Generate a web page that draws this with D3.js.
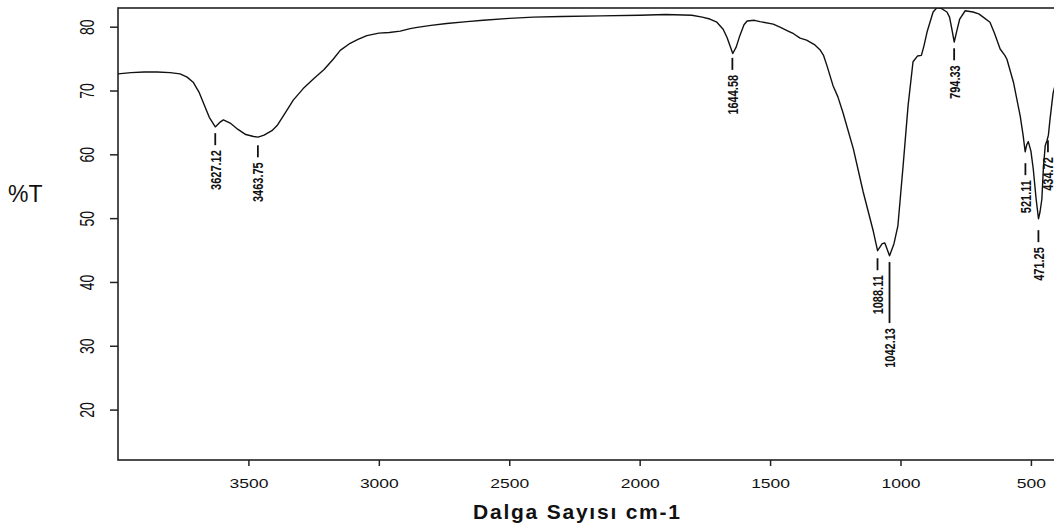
<!DOCTYPE html>
<html>
<head>
<meta charset="utf-8">
<script src="https://cdn.jsdelivr.net/npm/d3@7"></script>
<style>
  body { margin: 0; background: #fff; }
  svg { display: block; }
  text { font-family: "Liberation Sans", Arial, sans-serif; fill: #111; }
</style>
</head>
<body>
<div id="chart"></div>
<script>
// IR spectrum
var wavenumber = [4000, 3950, 3900, 3850, 3800, 3762, 3735, 3712, 3690, 3670, 3650, 3627, 3610, 3596, 3570, 3540, 3510, 3480, 3463, 3440, 3410, 3390, 3360, 3328, 3290, 3251, 3210, 3175, 3148, 3110, 3080, 3046, 3000, 2960, 2918, 2880, 2853, 2800, 2740, 2662, 2600, 2500, 2408, 2300, 2150, 2000, 1900, 1800, 1760, 1731, 1704, 1680, 1665, 1650, 1643, 1630, 1616, 1600, 1588, 1560, 1539, 1488, 1460, 1435, 1410, 1385, 1360, 1330, 1309, 1295, 1282, 1259, 1240, 1221, 1181, 1143, 1104, 1088, 1070, 1060, 1042, 1025, 1010, 990, 971, 952, 935, 920, 910, 898, 875, 860, 845, 822, 812, 803, 794, 785, 773, 752, 722, 700, 683, 657, 640, 618, 600, 592, 567, 541, 530, 522, 516, 510, 500, 491, 480, 471, 465, 458, 452, 445, 438, 433, 427, 415, 400];
var transmittance = [72.6, 72.8, 72.9, 72.9, 72.8, 72.6, 72.1, 71.3, 69.8, 67.8, 65.8, 64.3, 65.0, 65.4, 64.9, 63.9, 63.1, 62.8, 62.7, 63.0, 63.7, 64.5, 66.4, 68.5, 70.3, 71.8, 73.3, 74.9, 76.3, 77.4, 78.0, 78.6, 79.0, 79.1, 79.3, 79.7, 79.9, 80.2, 80.5, 80.8, 81.0, 81.3, 81.5, 81.6, 81.7, 81.8, 81.9, 81.8, 81.5, 81.2, 80.7, 79.6, 78.3, 76.6, 75.8, 76.8, 78.6, 80.3, 80.9, 81.0, 80.8, 80.4, 79.9, 79.4, 78.9, 78.2, 77.9, 77.2, 76.4, 75.5, 73.9, 70.8, 69.0, 66.6, 60.9, 54.1, 47.9, 44.9, 46.0, 46.1, 44.1, 46.0, 48.8, 58.2, 67.6, 74.5, 75.4, 75.5, 77.0, 79.2, 82.3, 83.0, 82.9, 82.3, 81.5, 79.6, 77.6, 79.2, 81.2, 82.5, 82.3, 82.0, 81.5, 80.7, 79.0, 76.5, 75.5, 74.9, 71.3, 66.0, 63.0, 60.4, 61.5, 62.0, 60.5, 57.7, 53.0, 49.9, 51.0, 53.0, 58.0, 61.4, 62.2, 63.0, 65.4, 69.6, 72.0];

// peak labels
var peakWave = [3627.12, 3463.75, 1644.58, 1088.11, 1042.13, 794.33, 521.11, 471.25, 434.72];
var peakT = [64.1, 62.2, 75.9, 44.5, 43.9, 77.4, 59.4, 48.9, 63.0];
var peakText = ["3627.12", "3463.75", "1644.58", "1088.11", "1042.13", "794.33", "521.11", "471.25", "434.72"];

var xTicks = [3500, 3000, 2500, 2000, 1500, 1000, 500];
var yTicks = [80, 70, 60, 50, 40, 30, 20];

var width = 1054, height = 527;
var plotLeft = 118, plotRight = 1057, plotTop = 8, plotBottom = 460;
var stretch = "scale(1.4,1)"; // the original picture is stretched sideways

var x = d3.scaleLinear().domain([4000, 400]).range([plotLeft, plotRight]);
var y = d3.scaleLinear().domain([12.1, 82.93]).range([plotBottom, plotTop]);

var svg = d3.select("#chart").append("svg")
    .attr("width", width)
    .attr("height", height);

svg.append("rect").attr("width", width).attr("height", height).attr("fill", "#fff");

svg.append("defs").append("clipPath").attr("id", "plot-clip")
    .append("rect")
    .attr("x", plotLeft).attr("y", plotTop)
    .attr("width", plotRight - plotLeft).attr("height", plotBottom - plotTop);

// x axis
var xAxis = svg.append("g")
    .attr("transform", "translate(0," + plotBottom + ")")
    .call(d3.axisBottom(x).tickValues(xTicks).tickSize(6).tickSizeOuter(0).tickFormat(d3.format("d")));
xAxis.select(".domain").remove();
xAxis.selectAll(".tick line").attr("stroke", "#222").attr("stroke-width", 1.5);
xAxis.selectAll(".tick text")
    .attr("y", null).attr("dy", null)
    .attr("transform", "translate(0,28) " + stretch)
    .attr("font-size", 12.5)
    .attr("fill", "#111");

// y axis
var yAxis = svg.append("g")
    .attr("transform", "translate(" + plotLeft + ",0)")
    .call(d3.axisLeft(y).tickValues(yTicks).tickSize(8).tickSizeOuter(0));
yAxis.select(".domain").remove();
yAxis.selectAll(".tick line").attr("stroke", "#222").attr("stroke-width", 1.5);
yAxis.selectAll(".tick text")
    .attr("x", null).attr("dy", null)
    .attr("text-anchor", "middle")
    .attr("transform", "translate(-24,0) " + stretch + " rotate(-90)")
    .attr("font-size", 14)
    .attr("fill", "#111");

// frame
svg.append("rect")
    .attr("x", plotLeft).attr("y", plotTop)
    .attr("width", plotRight - plotLeft).attr("height", plotBottom - plotTop)
    .attr("fill", "none")
    .attr("stroke", "#222")
    .attr("stroke-width", 1.6);

// spectrum
var line = d3.line()
    .x(function(d, i) { return x(wavenumber[i]); })
    .y(function(d, i) { return y(transmittance[i]); });

svg.append("path")
    .datum(wavenumber)
    .attr("clip-path", "url(#plot-clip)")
    .attr("d", line)
    .attr("fill", "none")
    .attr("stroke", "#111")
    .attr("stroke-width", 1.4)
    .attr("stroke-linejoin", "round");

// peak labels, leader below the peak then the value reading upwards
var longLeader = ["1042.13"];
var labels = svg.append("g");
peakWave.forEach(function(w, i) {
    var px = x(w), py = y(peakT[i]);
    var len = longLeader.indexOf(peakText[i]) >= 0 ? 66 : 17;
    labels.append("line")
        .attr("x1", px).attr("x2", px)
        .attr("y1", py + 5).attr("y2", py + len)
        .attr("stroke", "#111")
        .attr("stroke-width", 1.8);
    labels.append("text")
        .attr("transform", "translate(" + (px + 5.5) + "," + (py + len + 5) + ") " + stretch + " rotate(-90)")
        .attr("text-anchor", "end")
        .attr("font-size", 11)
        .attr("font-weight", "bold")
        .text(peakText[i]);
});

// axis titles
svg.append("text")
    .attr("x", 8).attr("y", 202)
    .attr("font-size", 23)
    .text("%T");

svg.append("text")
    .attr("x", 576.5).attr("y", 519)
    .attr("text-anchor", "middle")
    .attr("font-size", 21)
    .attr("font-weight", "bold")
    .attr("textLength", 207)
    .attr("lengthAdjust", "spacing")
    .text("Dalga Sayısı cm-1");
</script>
</body>
</html>
